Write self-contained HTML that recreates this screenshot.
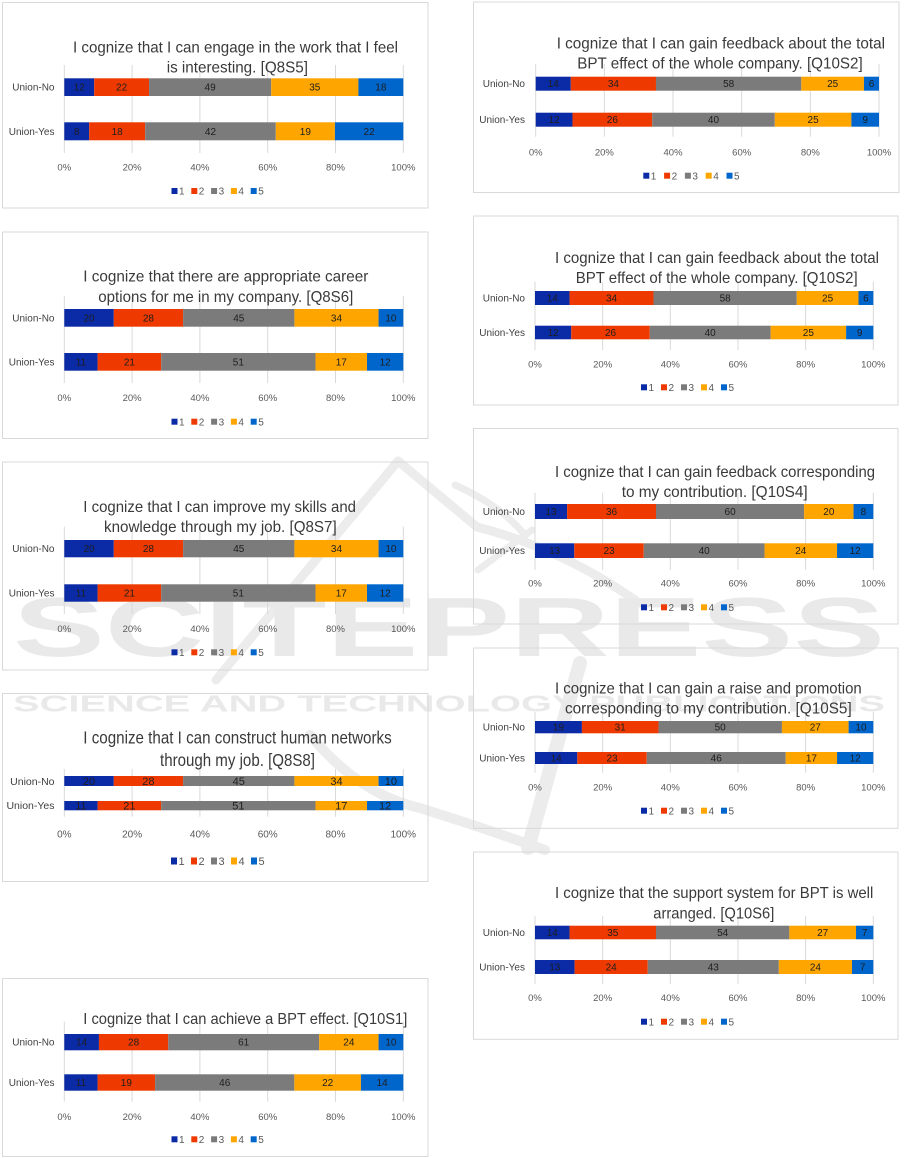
<!DOCTYPE html>
<html><head><meta charset="utf-8"><style>
html,body{margin:0;padding:0;background:#fff;}
svg{display:block;}
.a{fill:#0B2AA6}.b{fill:#EE3A00}.c{fill:#7B7B7B}.d{fill:#FFA500}.e{fill:#0066CC}
.bd{fill:none;stroke:#d9d9d9;stroke-width:1}
.g line{stroke:#d9d9d9;stroke-width:1}
.t{font-family:"Liberation Sans",sans-serif;font-size:16px;fill:#3a3a3a}
.t4{font-family:"Liberation Sans",sans-serif;font-size:17.5px;fill:#3a3a3a}
.cat{font-family:"Liberation Sans",sans-serif;font-size:10px;fill:#404040;text-anchor:end}
.tk{font-family:"Liberation Sans",sans-serif;font-size:9.5px;fill:#595959;text-anchor:middle}
.dl{font-family:"Liberation Sans",sans-serif;font-size:10px;fill:#1e1e1e;text-anchor:middle}
.lg{font-family:"Liberation Sans",sans-serif;font-size:10px;fill:#595959}
.wm{font-family:"Liberation Sans",sans-serif;font-weight:bold;fill:#e9e9e9}
.lw{fill:none;stroke:#ececec;stroke-linecap:round}
</style></head><body>
<svg width="905" height="1158" viewBox="0 0 905 1158" xmlns="http://www.w3.org/2000/svg">
<!-- watermark -->
<g>
<path class="lw" stroke-width="9" d="M398,461 L216,680"/>
<path class="lw" stroke-width="9" d="M398,461 L477,527 Q560,548 635,600"/>
<path class="lw" stroke-width="7" d="M455,485 Q500,505 525,535"/>
<path class="lw" stroke-width="7" d="M478,570 L532,530"/>
<path class="lw" stroke-width="10" d="M310,735 Q360,795 420,808 Q490,830 545,850"/>
<path class="lw" stroke-width="14" d="M580,663 L528,848"/>
<text class="wm" x="13" y="656" font-size="84" textLength="872" lengthAdjust="spacingAndGlyphs">SCITEPRESS</text>
<text class="wm" x="13" y="711.7" font-size="23" textLength="872" lengthAdjust="spacingAndGlyphs">SCIENCE AND TECHNOLOGY PUBLICATIONS</text>
</g>

<!-- ===== L1 ===== -->
<rect class="bd" x="2.5" y="2.5" width="425.5" height="205.5"/>
<g class="g"><line x1="64.3" y1="65" x2="64.3" y2="153"/><line x1="132.1" y1="65" x2="132.1" y2="153"/><line x1="199.9" y1="65" x2="199.9" y2="153"/><line x1="267.7" y1="65" x2="267.7" y2="153"/><line x1="335.5" y1="65" x2="335.5" y2="153"/><line x1="403.3" y1="65" x2="403.3" y2="153"/></g>
<text class="t" x="73" y="52.3" textLength="325" lengthAdjust="spacingAndGlyphs">I cognize that I can engage in the work that I feel</text>
<text class="t" x="166.7" y="72.3" textLength="141.3" lengthAdjust="spacingAndGlyphs">is interesting. [Q8S5]</text>
<rect class="a" x="64.3" y="78.3" width="29.9" height="17.7"/><rect class="b" x="94.2" y="78.3" width="54.85" height="17.7"/><rect class="c" x="149.05" y="78.3" width="122.15" height="17.7"/><rect class="d" x="271.2" y="78.3" width="87.2" height="17.7"/><rect class="e" x="358.4" y="78.3" width="44.9" height="17.7"/>
<rect class="a" x="64.3" y="122.3" width="24.88" height="18"/><rect class="b" x="89.18" y="122.3" width="55.98" height="18"/><rect class="c" x="145.16" y="122.3" width="130.64" height="18"/><rect class="d" x="275.8" y="122.3" width="59.1" height="18"/><rect class="e" x="334.9" y="122.3" width="68.4" height="18"/>
<text class="dl" x="79.25" y="90.6">12</text><text class="dl" x="121.6" y="90.6">22</text><text class="dl" x="210.1" y="90.6">49</text><text class="dl" x="314.8" y="90.6">35</text><text class="dl" x="380.85" y="90.6">18</text>
<text class="dl" x="76.74" y="134.8">8</text><text class="dl" x="117.17" y="134.8">18</text><text class="dl" x="210.48" y="134.8">42</text><text class="dl" x="305.35" y="134.8">19</text><text class="dl" x="369.1" y="134.8">22</text>
<text class="cat" x="54.5" y="90.6">Union-No</text><text class="cat" x="54.5" y="134.8">Union-Yes</text>
<text class="tk" x="64.3" y="170.5">0%</text><text class="tk" x="132.1" y="170.5">20%</text><text class="tk" x="199.9" y="170.5">40%</text><text class="tk" x="267.7" y="170.5">60%</text><text class="tk" x="335.5" y="170.5">80%</text><text class="tk" x="403.3" y="170.5">100%</text>
<g transform="translate(0,191)"><rect class="a" x="171.5" y="-3" width="6" height="6"/><text class="lg" x="179" y="3.6">1</text><rect class="b" x="191.3" y="-3" width="6" height="6"/><text class="lg" x="198.8" y="3.6">2</text><rect class="c" x="211.1" y="-3" width="6" height="6"/><text class="lg" x="218.6" y="3.6">3</text><rect class="d" x="230.9" y="-3" width="6" height="6"/><text class="lg" x="238.4" y="3.6">4</text><rect class="e" x="250.7" y="-3" width="6" height="6"/><text class="lg" x="258.2" y="3.6">5</text></g>

<!-- ===== L2 ===== -->
<rect class="bd" x="2.5" y="232" width="425.5" height="206.5"/>
<g class="g"><line x1="64.3" y1="296" x2="64.3" y2="383"/><line x1="132.1" y1="296" x2="132.1" y2="383"/><line x1="199.9" y1="296" x2="199.9" y2="383"/><line x1="267.7" y1="296" x2="267.7" y2="383"/><line x1="335.5" y1="296" x2="335.5" y2="383"/><line x1="403.3" y1="296" x2="403.3" y2="383"/></g>
<text class="t" x="83.3" y="281.3" textLength="285" lengthAdjust="spacingAndGlyphs">I cognize that there are appropriate career</text>
<text class="t" x="98.3" y="302" textLength="255" lengthAdjust="spacingAndGlyphs">options for me in my company. [Q8S6]</text>
<rect class="a" x="64.3" y="309" width="49.49" height="17.7"/><rect class="b" x="113.79" y="309" width="69.28" height="17.7"/><rect class="c" x="183.07" y="309" width="111.35" height="17.7"/><rect class="d" x="294.42" y="309" width="84.14" height="17.7"/><rect class="e" x="378.56" y="309" width="24.74" height="17.7"/>
<rect class="a" x="64.3" y="353" width="33.29" height="17.7"/><rect class="b" x="97.59" y="353" width="63.57" height="17.7"/><rect class="c" x="161.16" y="353" width="154.36" height="17.7"/><rect class="d" x="315.52" y="353" width="51.46" height="17.7"/><rect class="e" x="366.98" y="353" width="36.32" height="17.7"/>
<text class="dl" x="89.05" y="321.4">20</text><text class="dl" x="148.43" y="321.4">28</text><text class="dl" x="238.75" y="321.4">45</text><text class="dl" x="336.49" y="321.4">34</text><text class="dl" x="390.93" y="321.4">10</text>
<text class="dl" x="80.95" y="365.4">11</text><text class="dl" x="129.38" y="365.4">21</text><text class="dl" x="238.34" y="365.4">51</text><text class="dl" x="341.25" y="365.4">17</text><text class="dl" x="385.14" y="365.4">12</text>
<text class="cat" x="54.5" y="321.4">Union-No</text><text class="cat" x="54.5" y="365.4">Union-Yes</text>
<text class="tk" x="64.3" y="401">0%</text><text class="tk" x="132.1" y="401">20%</text><text class="tk" x="199.9" y="401">40%</text><text class="tk" x="267.7" y="401">60%</text><text class="tk" x="335.5" y="401">80%</text><text class="tk" x="403.3" y="401">100%</text>
<g transform="translate(0,421.7)"><rect class="a" x="171.5" y="-3" width="6" height="6"/><text class="lg" x="179" y="3.6">1</text><rect class="b" x="191.3" y="-3" width="6" height="6"/><text class="lg" x="198.8" y="3.6">2</text><rect class="c" x="211.1" y="-3" width="6" height="6"/><text class="lg" x="218.6" y="3.6">3</text><rect class="d" x="230.9" y="-3" width="6" height="6"/><text class="lg" x="238.4" y="3.6">4</text><rect class="e" x="250.7" y="-3" width="6" height="6"/><text class="lg" x="258.2" y="3.6">5</text></g>

<!-- ===== L3 ===== -->
<rect class="bd" x="2.5" y="462" width="425.5" height="208"/>
<g class="g"><line x1="64.3" y1="526.7" x2="64.3" y2="614"/><line x1="132.1" y1="526.7" x2="132.1" y2="614"/><line x1="199.9" y1="526.7" x2="199.9" y2="614"/><line x1="267.7" y1="526.7" x2="267.7" y2="614"/><line x1="335.5" y1="526.7" x2="335.5" y2="614"/><line x1="403.3" y1="526.7" x2="403.3" y2="614"/></g>
<text class="t" x="83.3" y="512" textLength="272.7" lengthAdjust="spacingAndGlyphs">I cognize that I can improve my skills and</text>
<text class="t" x="104" y="532" textLength="232.7" lengthAdjust="spacingAndGlyphs">knowledge through my job. [Q8S7]</text>
<rect class="a" x="64.3" y="540" width="49.49" height="17.3"/><rect class="b" x="113.79" y="540" width="69.28" height="17.3"/><rect class="c" x="183.07" y="540" width="111.35" height="17.3"/><rect class="d" x="294.42" y="540" width="84.14" height="17.3"/><rect class="e" x="378.56" y="540" width="24.74" height="17.3"/>
<rect class="a" x="64.3" y="584.3" width="33.29" height="17.4"/><rect class="b" x="97.59" y="584.3" width="63.57" height="17.4"/><rect class="c" x="161.16" y="584.3" width="154.36" height="17.4"/><rect class="d" x="315.52" y="584.3" width="51.46" height="17.4"/><rect class="e" x="366.98" y="584.3" width="36.32" height="17.4"/>
<text class="dl" x="89.05" y="552.2">20</text><text class="dl" x="148.43" y="552.2">28</text><text class="dl" x="238.75" y="552.2">45</text><text class="dl" x="336.49" y="552.2">34</text><text class="dl" x="390.93" y="552.2">10</text>
<text class="dl" x="80.95" y="596.5">11</text><text class="dl" x="129.38" y="596.5">21</text><text class="dl" x="238.34" y="596.5">51</text><text class="dl" x="341.25" y="596.5">17</text><text class="dl" x="385.14" y="596.5">12</text>
<text class="cat" x="54.5" y="552.2">Union-No</text><text class="cat" x="54.5" y="596.5">Union-Yes</text>
<text class="tk" x="64.3" y="632">0%</text><text class="tk" x="132.1" y="632">20%</text><text class="tk" x="199.9" y="632">40%</text><text class="tk" x="267.7" y="632">60%</text><text class="tk" x="335.5" y="632">80%</text><text class="tk" x="403.3" y="632">100%</text>
<g transform="translate(0,652.3)"><rect class="a" x="171.5" y="-3" width="6" height="6"/><text class="lg" x="179" y="3.6">1</text><rect class="b" x="191.3" y="-3" width="6" height="6"/><text class="lg" x="198.8" y="3.6">2</text><rect class="c" x="211.1" y="-3" width="6" height="6"/><text class="lg" x="218.6" y="3.6">3</text><rect class="d" x="230.9" y="-3" width="6" height="6"/><text class="lg" x="238.4" y="3.6">4</text><rect class="e" x="250.7" y="-3" width="6" height="6"/><text class="lg" x="258.2" y="3.6">5</text></g>

<!-- ===== L4 ===== -->
<rect class="bd" x="2.5" y="693.5" width="425.5" height="188"/>
<g class="g"><line x1="64.3" y1="769" x2="64.3" y2="816.7"/><line x1="132.1" y1="769" x2="132.1" y2="816.7"/><line x1="199.9" y1="769" x2="199.9" y2="816.7"/><line x1="267.7" y1="769" x2="267.7" y2="816.7"/><line x1="335.5" y1="769" x2="335.5" y2="816.7"/><line x1="403.3" y1="769" x2="403.3" y2="816.7"/></g>
<text class="t4" x="83.3" y="743.5" textLength="308.4" lengthAdjust="spacingAndGlyphs">I cognize that I can construct human networks</text>
<text class="t4" x="160" y="766" textLength="155" lengthAdjust="spacingAndGlyphs">through my job. [Q8S8]</text>
<rect class="a" x="64.3" y="776" width="49.49" height="10"/><rect class="b" x="113.79" y="776" width="69.28" height="10"/><rect class="c" x="183.07" y="776" width="111.35" height="10"/><rect class="d" x="294.42" y="776" width="84.14" height="10"/><rect class="e" x="378.56" y="776" width="24.74" height="10"/>
<rect class="a" x="64.3" y="801" width="33.29" height="9.3"/><rect class="b" x="97.59" y="801" width="63.57" height="9.3"/><rect class="c" x="161.16" y="801" width="154.36" height="9.3"/><rect class="d" x="315.52" y="801" width="51.46" height="9.3"/><rect class="e" x="366.98" y="801" width="36.32" height="9.3"/>
<g style="font-size:11px"><text class="dl" x="89.05" y="785" style="font-size:11px">20</text><text class="dl" x="148.43" y="785" style="font-size:11px">28</text><text class="dl" x="238.75" y="785" style="font-size:11px">45</text><text class="dl" x="336.49" y="785" style="font-size:11px">34</text><text class="dl" x="390.93" y="785" style="font-size:11px">10</text>
<text class="dl" x="80.95" y="809.7" style="font-size:11px">11</text><text class="dl" x="129.38" y="809.7" style="font-size:11px">21</text><text class="dl" x="238.34" y="809.7" style="font-size:11px">51</text><text class="dl" x="341.25" y="809.7" style="font-size:11px">17</text><text class="dl" x="385.14" y="809.7" style="font-size:11px">12</text></g>
<text class="cat" x="54.5" y="784.8" style="font-size:10.5px">Union-No</text><text class="cat" x="54.5" y="809.2" style="font-size:10.5px">Union-Yes</text>
<text class="tk" x="64.3" y="837.5" style="font-size:10px">0%</text><text class="tk" x="132.1" y="837.5" style="font-size:10px">20%</text><text class="tk" x="199.9" y="837.5" style="font-size:10px">40%</text><text class="tk" x="267.7" y="837.5" style="font-size:10px">60%</text><text class="tk" x="335.5" y="837.5" style="font-size:10px">80%</text><text class="tk" x="403.3" y="837.5" style="font-size:10px">100%</text>
<g transform="translate(0,861)"><rect class="a" x="171" y="-3.5" width="6" height="7"/><text class="lg" x="178.5" y="4" style="font-size:11px">1</text><rect class="b" x="191" y="-3.5" width="6" height="7"/><text class="lg" x="198.5" y="4" style="font-size:11px">2</text><rect class="c" x="211" y="-3.5" width="6" height="7"/><text class="lg" x="218.5" y="4" style="font-size:11px">3</text><rect class="d" x="231" y="-3.5" width="6" height="7"/><text class="lg" x="238.5" y="4" style="font-size:11px">4</text><rect class="e" x="251" y="-3.5" width="6" height="7"/><text class="lg" x="258.5" y="4" style="font-size:11px">5</text></g>

<!-- ===== L5 ===== -->
<rect class="bd" x="2.5" y="978.5" width="425.5" height="178"/>
<g class="g"><line x1="64.3" y1="1021.7" x2="64.3" y2="1101.7"/><line x1="132.1" y1="1021.7" x2="132.1" y2="1101.7"/><line x1="199.9" y1="1021.7" x2="199.9" y2="1101.7"/><line x1="267.7" y1="1021.7" x2="267.7" y2="1101.7"/><line x1="335.5" y1="1021.7" x2="335.5" y2="1101.7"/><line x1="403.3" y1="1021.7" x2="403.3" y2="1101.7"/></g>
<text class="t" x="83.3" y="1024" textLength="324" lengthAdjust="spacingAndGlyphs">I cognize that I can achieve a BPT effect. [Q10S1]</text>
<rect class="a" x="64.3" y="1034" width="34.64" height="16.3"/><rect class="b" x="98.94" y="1034" width="69.29" height="16.3"/><rect class="c" x="168.23" y="1034" width="150.94" height="16.3"/><rect class="d" x="319.17" y="1034" width="59.39" height="16.3"/><rect class="e" x="378.56" y="1034" width="24.74" height="16.3"/>
<rect class="a" x="64.3" y="1074.3" width="33.29" height="16.4"/><rect class="b" x="97.59" y="1074.3" width="57.51" height="16.4"/><rect class="c" x="155.1" y="1074.3" width="139.24" height="16.4"/><rect class="d" x="294.34" y="1074.3" width="66.59" height="16.4"/><rect class="e" x="360.93" y="1074.3" width="42.37" height="16.4"/>
<text class="dl" x="81.62" y="1045.7">14</text><text class="dl" x="133.59" y="1045.7">28</text><text class="dl" x="243.7" y="1045.7">61</text><text class="dl" x="348.87" y="1045.7">24</text><text class="dl" x="390.93" y="1045.7">10</text>
<text class="dl" x="80.95" y="1086">11</text><text class="dl" x="126.35" y="1086">19</text><text class="dl" x="224.72" y="1086">46</text><text class="dl" x="327.64" y="1086">22</text><text class="dl" x="382.12" y="1086">14</text>
<text class="cat" x="54.5" y="1045.7">Union-No</text><text class="cat" x="54.5" y="1086">Union-Yes</text>
<text class="tk" x="64.3" y="1120">0%</text><text class="tk" x="132.1" y="1120">20%</text><text class="tk" x="199.9" y="1120">40%</text><text class="tk" x="267.7" y="1120">60%</text><text class="tk" x="335.5" y="1120">80%</text><text class="tk" x="403.3" y="1120">100%</text>
<g transform="translate(0,1139.3)"><rect class="a" x="171.5" y="-3" width="6" height="6"/><text class="lg" x="179" y="3.6">1</text><rect class="b" x="191.3" y="-3" width="6" height="6"/><text class="lg" x="198.8" y="3.6">2</text><rect class="c" x="211.1" y="-3" width="6" height="6"/><text class="lg" x="218.6" y="3.6">3</text><rect class="d" x="230.9" y="-3" width="6" height="6"/><text class="lg" x="238.4" y="3.6">4</text><rect class="e" x="250.7" y="-3" width="6" height="6"/><text class="lg" x="258.2" y="3.6">5</text></g>

<!-- ===== R1 ===== -->
<rect class="bd" x="473.5" y="2" width="425.5" height="190.5"/>
<g class="g"><line x1="535.7" y1="64" x2="535.7" y2="136.7"/><line x1="604.36" y1="64" x2="604.36" y2="136.7"/><line x1="673.02" y1="64" x2="673.02" y2="136.7"/><line x1="741.68" y1="64" x2="741.68" y2="136.7"/><line x1="810.34" y1="64" x2="810.34" y2="136.7"/><line x1="879" y1="64" x2="879" y2="136.7"/></g>
<text class="t" x="556.7" y="48.6" textLength="328.3" lengthAdjust="spacingAndGlyphs">I cognize that I can gain feedback about the total</text>
<text class="t" x="577.3" y="68.6" textLength="285.4" lengthAdjust="spacingAndGlyphs">BPT effect of the whole company. [Q10S2]</text>
<rect class="a" x="535.7" y="76.7" width="35.08" height="14"/><rect class="b" x="570.78" y="76.7" width="85.2" height="14"/><rect class="c" x="655.98" y="76.7" width="145.34" height="14"/><rect class="d" x="801.32" y="76.7" width="62.64" height="14"/><rect class="e" x="863.96" y="76.7" width="15.04" height="14"/>
<rect class="a" x="535.7" y="112.7" width="36.78" height="14"/><rect class="b" x="572.48" y="112.7" width="79.7" height="14"/><rect class="c" x="652.18" y="112.7" width="122.6" height="14"/><rect class="d" x="774.78" y="112.7" width="76.63" height="14"/><rect class="e" x="851.41" y="112.7" width="27.59" height="14"/>
<text class="dl" x="553.24" y="87.2">14</text><text class="dl" x="613.38" y="87.2">34</text><text class="dl" x="728.65" y="87.2">58</text><text class="dl" x="832.64" y="87.2">25</text><text class="dl" x="871.48" y="87.2">6</text>
<text class="dl" x="554.09" y="123.2">12</text><text class="dl" x="612.33" y="123.2">26</text><text class="dl" x="713.48" y="123.2">40</text><text class="dl" x="813.1" y="123.2">25</text><text class="dl" x="865.2" y="123.2">9</text>
<text class="cat" x="525" y="87.2">Union-No</text><text class="cat" x="525" y="123.2">Union-Yes</text>
<text class="tk" x="535.7" y="155.7">0%</text><text class="tk" x="604.36" y="155.7">20%</text><text class="tk" x="673.02" y="155.7">40%</text><text class="tk" x="741.68" y="155.7">60%</text><text class="tk" x="810.34" y="155.7">80%</text><text class="tk" x="879" y="155.7">100%</text>
<g transform="translate(0,175.7)"><rect class="a" x="643.3" y="-3" width="6" height="6"/><text class="lg" x="650.8" y="3.6">1</text><rect class="b" x="664.1" y="-3" width="6" height="6"/><text class="lg" x="671.6" y="3.6">2</text><rect class="c" x="684.9" y="-3" width="6" height="6"/><text class="lg" x="692.4" y="3.6">3</text><rect class="d" x="705.7" y="-3" width="6" height="6"/><text class="lg" x="713.2" y="3.6">4</text><rect class="e" x="726.5" y="-3" width="6" height="6"/><text class="lg" x="734" y="3.6">5</text></g>

<!-- ===== R2 ===== -->
<rect class="bd" x="473.5" y="216" width="424.5" height="189"/>
<g class="g"><line x1="535" y1="281.7" x2="535" y2="350"/><line x1="602.66" y1="281.7" x2="602.66" y2="350"/><line x1="670.32" y1="281.7" x2="670.32" y2="350"/><line x1="737.98" y1="281.7" x2="737.98" y2="350"/><line x1="805.64" y1="281.7" x2="805.64" y2="350"/><line x1="873.3" y1="281.7" x2="873.3" y2="350"/></g>
<text class="t" x="555" y="263" textLength="324" lengthAdjust="spacingAndGlyphs">I cognize that I can gain feedback about the total</text>
<text class="t" x="575.7" y="283" textLength="282" lengthAdjust="spacingAndGlyphs">BPT effect of the whole company. [Q10S2]</text>
<rect class="a" x="535" y="291" width="34.57" height="14"/><rect class="b" x="569.57" y="291" width="83.96" height="14"/><rect class="c" x="653.53" y="291" width="143.22" height="14"/><rect class="d" x="796.75" y="291" width="61.73" height="14"/><rect class="e" x="858.48" y="291" width="14.82" height="14"/>
<rect class="a" x="535" y="325.7" width="36.25" height="13.6"/><rect class="b" x="571.25" y="325.7" width="78.53" height="13.6"/><rect class="c" x="649.78" y="325.7" width="120.82" height="13.6"/><rect class="d" x="770.6" y="325.7" width="75.51" height="13.6"/><rect class="e" x="846.11" y="325.7" width="27.19" height="13.6"/>
<text class="dl" x="552.29" y="301.5">14</text><text class="dl" x="611.55" y="301.5">34</text><text class="dl" x="725.14" y="301.5">58</text><text class="dl" x="827.62" y="301.5">25</text><text class="dl" x="865.89" y="301.5">6</text>
<text class="dl" x="553.13" y="336">12</text><text class="dl" x="610.52" y="336">26</text><text class="dl" x="710.19" y="336">40</text><text class="dl" x="808.36" y="336">25</text><text class="dl" x="859.71" y="336">9</text>
<text class="cat" x="525" y="301.5">Union-No</text><text class="cat" x="525" y="336">Union-Yes</text>
<text class="tk" x="535" y="367.3">0%</text><text class="tk" x="602.66" y="367.3">20%</text><text class="tk" x="670.32" y="367.3">40%</text><text class="tk" x="737.98" y="367.3">60%</text><text class="tk" x="805.64" y="367.3">80%</text><text class="tk" x="873.3" y="367.3">100%</text>
<g transform="translate(0,387.3)"><rect class="a" x="641" y="-3" width="6" height="6"/><text class="lg" x="648.5" y="3.6">1</text><rect class="b" x="661" y="-3" width="6" height="6"/><text class="lg" x="668.5" y="3.6">2</text><rect class="c" x="681" y="-3" width="6" height="6"/><text class="lg" x="688.5" y="3.6">3</text><rect class="d" x="701" y="-3" width="6" height="6"/><text class="lg" x="708.5" y="3.6">4</text><rect class="e" x="721" y="-3" width="6" height="6"/><text class="lg" x="728.5" y="3.6">5</text></g>

<!-- ===== R3 ===== -->
<rect class="bd" x="473.5" y="428.5" width="424.5" height="195.5"/>
<g class="g"><line x1="535" y1="492.7" x2="535" y2="570"/><line x1="602.66" y1="492.7" x2="602.66" y2="570"/><line x1="670.32" y1="492.7" x2="670.32" y2="570"/><line x1="737.98" y1="492.7" x2="737.98" y2="570"/><line x1="805.64" y1="492.7" x2="805.64" y2="570"/><line x1="873.3" y1="492.7" x2="873.3" y2="570"/></g>
<text class="t" x="555" y="477" textLength="320" lengthAdjust="spacingAndGlyphs">I cognize that I can gain feedback corresponding</text>
<text class="t" x="621.7" y="497" textLength="186" lengthAdjust="spacingAndGlyphs">to my contribution. [Q10S4]</text>
<rect class="a" x="535" y="504" width="32.1" height="15"/><rect class="b" x="567.1" y="504" width="88.9" height="15"/><rect class="c" x="656" y="504" width="148.16" height="15"/><rect class="d" x="804.16" y="504" width="49.39" height="15"/><rect class="e" x="853.55" y="504" width="19.75" height="15"/>
<rect class="a" x="535" y="543.3" width="39.27" height="14.7"/><rect class="b" x="574.27" y="543.3" width="69.47" height="14.7"/><rect class="c" x="643.74" y="543.3" width="120.82" height="14.7"/><rect class="d" x="764.56" y="543.3" width="72.49" height="14.7"/><rect class="e" x="837.05" y="543.3" width="36.25" height="14.7"/>
<text class="dl" x="551.05" y="515">13</text><text class="dl" x="611.55" y="515">36</text><text class="dl" x="730.08" y="515">60</text><text class="dl" x="828.86" y="515">20</text><text class="dl" x="863.43" y="515">8</text>
<text class="dl" x="554.64" y="554.2">13</text><text class="dl" x="609" y="554.2">23</text><text class="dl" x="704.15" y="554.2">40</text><text class="dl" x="800.8" y="554.2">24</text><text class="dl" x="855.18" y="554.2">12</text>
<text class="cat" x="525" y="515">Union-No</text><text class="cat" x="525" y="554.2">Union-Yes</text>
<text class="tk" x="535" y="586.7">0%</text><text class="tk" x="602.66" y="586.7">20%</text><text class="tk" x="670.32" y="586.7">40%</text><text class="tk" x="737.98" y="586.7">60%</text><text class="tk" x="805.64" y="586.7">80%</text><text class="tk" x="873.3" y="586.7">100%</text>
<g transform="translate(0,607.3)"><rect class="a" x="641" y="-3" width="6" height="6"/><text class="lg" x="648.5" y="3.6">1</text><rect class="b" x="661" y="-3" width="6" height="6"/><text class="lg" x="668.5" y="3.6">2</text><rect class="c" x="681" y="-3" width="6" height="6"/><text class="lg" x="688.5" y="3.6">3</text><rect class="d" x="701" y="-3" width="6" height="6"/><text class="lg" x="708.5" y="3.6">4</text><rect class="e" x="721" y="-3" width="6" height="6"/><text class="lg" x="728.5" y="3.6">5</text></g>

<!-- ===== R4 ===== -->
<rect class="bd" x="473.5" y="648" width="424.5" height="180.3"/>
<g class="g"><line x1="535" y1="712" x2="535" y2="772.7"/><line x1="602.66" y1="712" x2="602.66" y2="772.7"/><line x1="670.32" y1="712" x2="670.32" y2="772.7"/><line x1="737.98" y1="712" x2="737.98" y2="772.7"/><line x1="805.64" y1="712" x2="805.64" y2="772.7"/><line x1="873.3" y1="712" x2="873.3" y2="772.7"/></g>
<text class="t" x="555" y="693.6" textLength="306.7" lengthAdjust="spacingAndGlyphs">I cognize that I can gain a raise and promotion</text>
<text class="t" x="565" y="713.6" textLength="286.7" lengthAdjust="spacingAndGlyphs">corresponding to my contribution. [Q10S5]</text>
<rect class="a" x="535" y="721" width="46.92" height="12.3"/><rect class="b" x="581.92" y="721" width="76.55" height="12.3"/><rect class="c" x="658.47" y="721" width="123.47" height="12.3"/><rect class="d" x="781.94" y="721" width="66.67" height="12.3"/><rect class="e" x="848.61" y="721" width="24.69" height="12.3"/>
<rect class="a" x="535" y="752" width="42.29" height="12"/><rect class="b" x="577.29" y="752" width="69.47" height="12"/><rect class="c" x="646.76" y="752" width="138.94" height="12"/><rect class="d" x="785.7" y="752" width="51.35" height="12"/><rect class="e" x="837.05" y="752" width="36.25" height="12"/>
<text class="dl" x="558.46" y="730.7">19</text><text class="dl" x="620.2" y="730.7">31</text><text class="dl" x="720.2" y="730.7">50</text><text class="dl" x="815.28" y="730.7">27</text><text class="dl" x="860.96" y="730.7">10</text>
<text class="dl" x="556.15" y="761.5">14</text><text class="dl" x="612.03" y="761.5">23</text><text class="dl" x="716.23" y="761.5">46</text><text class="dl" x="811.38" y="761.5">17</text><text class="dl" x="855.18" y="761.5">12</text>
<text class="cat" x="525" y="730.7">Union-No</text><text class="cat" x="525" y="761.5">Union-Yes</text>
<text class="tk" x="535" y="790.7">0%</text><text class="tk" x="602.66" y="790.7">20%</text><text class="tk" x="670.32" y="790.7">40%</text><text class="tk" x="737.98" y="790.7">60%</text><text class="tk" x="805.64" y="790.7">80%</text><text class="tk" x="873.3" y="790.7">100%</text>
<g transform="translate(0,810.7)"><rect class="a" x="641" y="-3" width="6" height="6"/><text class="lg" x="648.5" y="3.6">1</text><rect class="b" x="661" y="-3" width="6" height="6"/><text class="lg" x="668.5" y="3.6">2</text><rect class="c" x="681" y="-3" width="6" height="6"/><text class="lg" x="688.5" y="3.6">3</text><rect class="d" x="701" y="-3" width="6" height="6"/><text class="lg" x="708.5" y="3.6">4</text><rect class="e" x="721" y="-3" width="6" height="6"/><text class="lg" x="728.5" y="3.6">5</text></g>

<!-- ===== R5 ===== -->
<rect class="bd" x="473.5" y="852" width="424.5" height="187.3"/>
<g class="g"><line x1="535" y1="916" x2="535" y2="984"/><line x1="602.66" y1="916" x2="602.66" y2="984"/><line x1="670.32" y1="916" x2="670.32" y2="984"/><line x1="737.98" y1="916" x2="737.98" y2="984"/><line x1="805.64" y1="916" x2="805.64" y2="984"/><line x1="873.3" y1="916" x2="873.3" y2="984"/></g>
<text class="t" x="555" y="898" textLength="318.3" lengthAdjust="spacingAndGlyphs">I cognize that the support system for BPT is well</text>
<text class="t" x="653.3" y="918.6" textLength="121" lengthAdjust="spacingAndGlyphs">arranged. [Q10S6]</text>
<rect class="a" x="535" y="925.7" width="34.57" height="13.6"/><rect class="b" x="569.57" y="925.7" width="86.43" height="13.6"/><rect class="c" x="656" y="925.7" width="133.34" height="13.6"/><rect class="d" x="789.34" y="925.7" width="66.68" height="13.6"/><rect class="e" x="856.02" y="925.7" width="17.28" height="13.6"/>
<rect class="a" x="535" y="960" width="39.62" height="14"/><rect class="b" x="574.62" y="960" width="73.15" height="14"/><rect class="c" x="647.77" y="960" width="131.05" height="14"/><rect class="d" x="778.82" y="960" width="73.15" height="14"/><rect class="e" x="851.97" y="960" width="21.33" height="14"/>
<text class="dl" x="552.29" y="936">14</text><text class="dl" x="612.79" y="936">35</text><text class="dl" x="722.67" y="936">54</text><text class="dl" x="822.68" y="936">27</text><text class="dl" x="864.66" y="936">7</text>
<text class="dl" x="554.81" y="970.5">13</text><text class="dl" x="611.2" y="970.5">24</text><text class="dl" x="713.3" y="970.5">43</text><text class="dl" x="815.4" y="970.5">24</text><text class="dl" x="862.64" y="970.5">7</text>
<text class="cat" x="525" y="936">Union-No</text><text class="cat" x="525" y="970.5">Union-Yes</text>
<text class="tk" x="535" y="1001">0%</text><text class="tk" x="602.66" y="1001">20%</text><text class="tk" x="670.32" y="1001">40%</text><text class="tk" x="737.98" y="1001">60%</text><text class="tk" x="805.64" y="1001">80%</text><text class="tk" x="873.3" y="1001">100%</text>
<g transform="translate(0,1021.7)"><rect class="a" x="641" y="-3" width="6" height="6"/><text class="lg" x="648.5" y="3.6">1</text><rect class="b" x="661" y="-3" width="6" height="6"/><text class="lg" x="668.5" y="3.6">2</text><rect class="c" x="681" y="-3" width="6" height="6"/><text class="lg" x="688.5" y="3.6">3</text><rect class="d" x="701" y="-3" width="6" height="6"/><text class="lg" x="708.5" y="3.6">4</text><rect class="e" x="721" y="-3" width="6" height="6"/><text class="lg" x="728.5" y="3.6">5</text></g>
</svg>
</body></html>
